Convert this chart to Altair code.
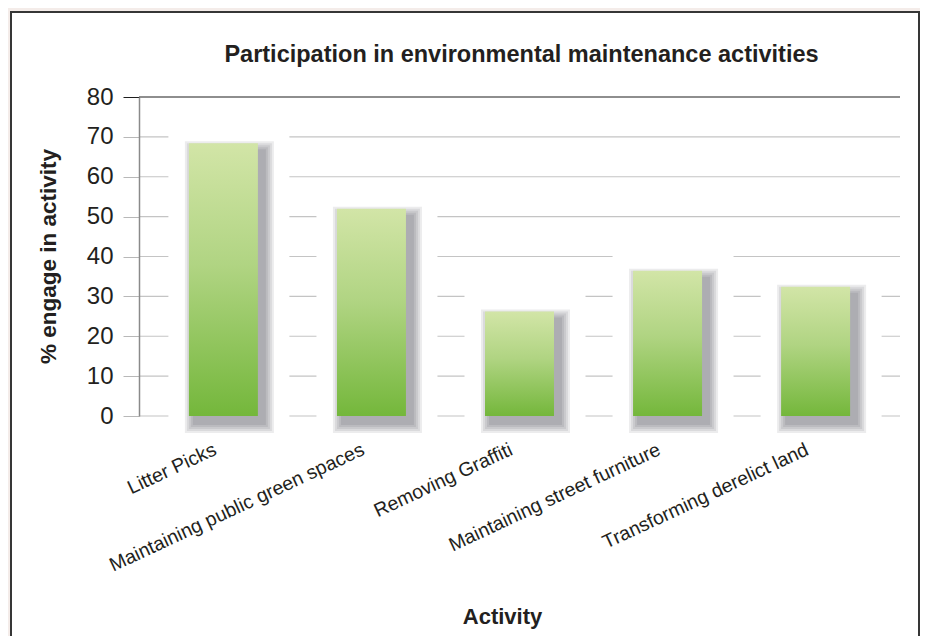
import altair as alt
import pandas as pd

# ---- data ----
activities = [
    "Litter Picks",
    "Maintaining public green spaces",
    "Removing Graffiti",
    "Maintaining street furniture",
    "Transforming derelict land",
]
values = [68.4, 52.0, 26.2, 36.4, 32.4]
y_ticks = [0, 10, 20, 30, 40, 50, 60, 70, 80]

title_text = "Participation in environmental maintenance activities"
y_title = "% engage in activity"
x_title = "Activity"

df = pd.DataFrame({"activity": activities, "value": values})
grid_df = pd.DataFrame({"value": y_ticks})
title_df = pd.DataFrame({"t": [title_text]})

FONT = "Liberation Sans"
TXT = "#231f20"

W, H = 761, 319

x_enc = alt.X(
    "activity:N",
    sort=None,
    scale=alt.Scale(paddingInner=0.534, paddingOuter=0.337),
    axis=alt.Axis(
        title=x_title,
        labelAngle=-25,
        labelAlign="right",
        labelBaseline="top",
        labelFontSize=19.5,
        labelFont=FONT,
        labelColor=TXT,
        labelPadding=24,
        labelOffset=-12,
        labelLimit=0,
        ticks=False,
        domain=False,
        grid=False,
        titleFont=FONT,
        titleFontSize=22,
        titleFontWeight="bold",
        titleColor=TXT,
        titleX=363,
        titleY=200,
        titleBaseline="middle",
        titleAlign="center",
        zindex=1,
    ),
)

y_enc = alt.Y(
    "value:Q",
    scale=alt.Scale(domain=[0, 80], nice=False, zero=True),
    axis=alt.Axis(
        title=y_title,
        values=y_ticks,
        grid=False,
        labelFontSize=24,
        labelFont=FONT,
        labelColor=TXT,
        labelPadding=10,
        tickSize=16,
        tickColor={"condition": {"test": "datum.value === 80", "value": "#1e1e1e"}, "value": "#b8b8b8"},
        domainColor="#8a8a8a",
        domainWidth=1.5,
        titleFont=FONT,
        titleFontSize=22.5,
        titleFontWeight="bold",
        titleColor=TXT,
        titleAngle=270,
        titleX=-91,
        titleY=159,
        titleBaseline="middle",
        titleAlign="center",
        zindex=1,
    ),
)

panel = alt.Chart(title_df).mark_rect(
    fill="white", stroke="#363636", strokeWidth=2
).encode(
    x=alt.value(-128), x2=alt.value(780), y=alt.value(-85), y2=alt.value(700)
)

title = alt.Chart(title_df).mark_text(
    font=FONT, fontSize=23.5, fontWeight="bold", color=TXT,
    align="center", baseline="alphabetic",
).encode(text="t:N", x=alt.value(382.5), y=alt.value(-35))

grid = alt.Chart(grid_df).mark_rule(strokeWidth=1.2).encode(
    x=alt.value(0),
    x2=alt.value(W),
    y=y_enc,
    color=alt.condition("datum.value === 80", alt.value("#1e1e1e"), alt.value("#c4c4c4")),
)

halo = alt.Chart(df).mark_bar(
    color="white", size=121, xOffset=5.5, yOffset=-17, y2Offset=20
).encode(x=x_enc, y=y_enc, y2=alt.datum(0))

shadows = []
for r in [10, 8, 6, 4, 2]:
    shadows.append(
        alt.Chart(df).mark_bar(
            color="#26262f", opacity=0.085, size=69 + 2 * r,
            xOffset=6, yOffset=8 - r, y2Offset=7 + r,
        ).encode(x=x_enc, y=y_enc, y2=alt.datum(0))
    )

bars = alt.Chart(df).mark_bar(
    color=alt.Gradient(
        gradient="linear",
        stops=[
            alt.GradientStop(color="#d2e5a7", offset=0),
            alt.GradientStop(color="#b0d482", offset=0.45),
            alt.GradientStop(color="#74b73b", offset=1),
        ],
        x1=1, x2=1, y1=0, y2=1,
    )
).encode(x=x_enc, y=y_enc, y2=alt.datum(0))

chart = alt.layer(panel, title, grid, halo, *shadows, bars).properties(
    width=W,
    height=H,
    autosize=alt.AutoSizeParams(type="none"),
    padding={"left": 131, "top": 89, "right": 20, "bottom": 220},
    background="#f4ece9",
).configure_view(strokeWidth=0)

chart.save("out.html", embed_options={"renderer": "svg", "actions": False})
